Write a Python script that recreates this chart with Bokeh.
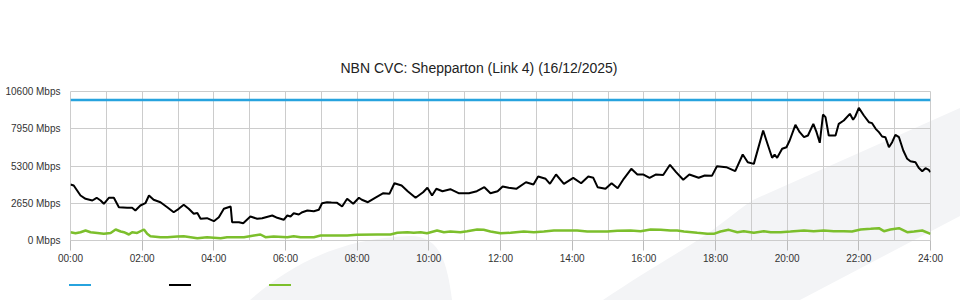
from bokeh.plotting import figure
from bokeh.layouts import column
from bokeh.models import Range1d, FixedTicker, Div
from bokeh.embed import file_html
from bokeh.resources import INLINE

title_text = "NBN CVC: Shepparton (Link 4) (16/12/2025)"

# capacity line
cap_hours = [0, 24]
cap_mbps = [10000, 10000]

# download (black)
dl_hours = [0.00, 0.09, 0.28, 0.42, 0.61, 0.73, 0.84, 0.93, 1.07, 1.21, 1.35, 1.58, 1.72, 1.81,
            1.95, 2.09, 2.19, 2.32, 2.51, 2.70, 2.88, 3.02, 3.16, 3.30, 3.44, 3.54, 3.63, 3.81,
            4.00, 4.14, 4.28, 4.47, 4.51, 4.70, 4.82, 5.02, 5.21, 5.35, 5.63, 5.77, 5.95, 6.05,
            6.14, 6.23, 6.37, 6.47, 6.61, 6.79, 6.93, 7.02, 7.16, 7.28, 7.44, 7.58, 7.72, 7.89,
            8.05, 8.13, 8.30, 8.50, 8.73, 8.90, 9.04, 9.24, 9.41, 9.63, 9.84, 9.96, 10.09, 10.21,
            10.38, 10.60, 10.83, 11.12, 11.34, 11.55, 11.72, 11.92, 12.06, 12.23, 12.44, 12.71,
            12.92, 13.05, 13.26, 13.38, 13.55, 13.77, 14.03, 14.25, 14.45, 14.59, 14.71, 14.93,
            15.10, 15.27, 15.44, 15.65, 15.82, 15.99, 16.16, 16.33, 16.54, 16.73, 16.90, 17.10,
            17.27, 17.53, 17.70, 17.90, 18.04, 18.30, 18.55, 18.76, 18.90, 19.07, 19.33, 19.45,
            19.58, 19.65, 19.72, 19.86, 19.98, 20.07, 20.23, 20.35, 20.47, 20.58, 20.73, 20.82,
            20.91, 21.00, 21.07, 21.16, 21.35, 21.44, 21.58, 21.75, 21.84, 21.90, 22.00, 22.14,
            22.28, 22.37, 22.47, 22.56, 22.65, 22.74, 22.84, 22.93, 23.02, 23.12, 23.24, 23.35,
            23.44, 23.58, 23.67, 23.77, 23.86, 23.95, 24.00]
dl_mbps = [3984, 3913, 3200, 2966, 2846, 3038, 2846, 2610, 3038, 3038, 2370, 2325, 2325, 2134,
           2490, 2653, 3201, 2896, 2725, 2370, 2013, 2255, 2540, 2255, 1900, 1950, 1544, 1586,
           1373, 1658, 2255, 2419, 1302, 1302, 1231, 1707, 1544, 1586, 1778, 1615, 1473, 1778,
           1707, 1942, 1850, 2013, 2134, 2080, 2184, 2653, 2725, 2700, 2680, 2419, 2966, 2610,
           3038, 2896, 2725, 3038, 3365, 3320, 4076, 3913, 3507, 3038, 3436, 3749, 3201, 3678,
           3507, 3650, 3365, 3365, 3507, 3792, 3365, 3507, 3842, 3749, 3678, 4147,
           3984, 4553, 4389, 4032, 4695, 4032, 4460, 4076, 4553, 4460, 3792, 3678,
           4076, 3720, 4389, 5100, 4695, 4695, 4460, 4695, 4660, 5385, 4860, 4318,
           4695, 4460, 4624, 4600, 5286, 5215, 4930, 6118, 5570, 5450, 7825, 6879,
           5883, 6118, 5883, 6523, 6638, 7114, 8230, 7706, 7350, 7470, 8300, 7706,
           6950, 8963, 8775, 7470, 7470, 8300, 8537, 9011, 8585, 8822, 9438, 8893,
           8418, 8347, 7944, 7706, 7400, 7350, 6638, 6994, 7517, 7350, 6400, 5811,
           5640, 5570, 5170, 4930, 5145, 5030, 4860]

# upload (green)
ul_hours = [0.00, 0.14, 0.28, 0.42, 0.56, 0.75, 0.93, 1.12, 1.26, 1.40, 1.49, 1.63, 1.72, 1.86,
            2.05, 2.14, 2.23, 2.51, 2.70, 2.98, 3.16, 3.35, 3.54, 3.81, 4.19, 4.37, 4.84, 5.12,
            5.30, 5.44, 5.67, 6.05, 6.23, 6.42, 6.79, 6.98, 7.35, 7.72, 8.00, 8.56, 8.93, 9.12,
            9.40, 9.58, 9.77, 9.95, 10.23, 10.42, 10.60, 10.88, 11.07, 11.35, 11.53, 11.72, 12.00,
            12.28, 12.65, 12.93, 13.21, 13.49, 13.86, 14.14, 14.42, 14.70, 14.98, 15.26, 15.63,
            15.91, 16.19, 16.47, 16.74, 16.93, 17.12, 17.49, 17.77, 17.95, 18.14, 18.37, 18.61,
            18.79, 19.07, 19.35, 19.54, 19.82, 20.09, 20.47, 20.74, 21.02, 21.30, 21.58, 21.81,
            22.05, 22.33, 22.56, 22.70, 22.88, 23.12, 23.35, 23.54, 23.77, 24.00]
ul_mbps = [590, 520, 590, 711, 590, 540, 476, 540, 783, 640, 590, 427, 590, 540,
           783, 476, 308, 237, 237, 285, 308, 237, 166, 237, 166, 237, 237, 356,
           427, 237, 285, 237, 308, 237, 237, 356, 356, 356, 403, 427, 427, 546,
           590, 546, 590, 520, 711, 590, 640, 590, 664, 783, 759, 640, 520,
           546, 640, 590, 640, 711, 711, 711, 640, 640, 640, 690, 711,
           664, 783, 759, 711, 711, 640, 546, 476, 476, 640, 759, 590,
           664, 546, 664, 590, 590, 640, 711, 664, 711, 664, 664, 640,
           783, 830, 877, 664, 783, 877, 590, 640, 711, 476]

y_ticks = [0, 2650, 5300, 7950, 10600]
y_tick_labels = {t: f"{t} Mbps" for t in y_ticks}
x_ticks = list(range(0, 25, 2))
x_tick_labels = {h: f"{h:02d}:00" for h in x_ticks}
x_grid_hours = list(range(0, 25))

BLUE = "#27a3de"
BLACK = "#000000"
GREEN = "#7cbf2c"
GRID = "#cccccc"
TEXT = "#333333"
FONT = "Liberation Sans"

watermark = (
    "url(\"data:image/svg+xml;utf8,<svg xmlns='http://www.w3.org/2000/svg' width='960' height='300'>"
    "<path d='M250 300 C290 265 340 238 410 236 C440 236 447 262 452 300 Z' fill='%23f3f4f6'/>"
    "<path d='M603 300 C640 275 670 258 698 240 C720 226 735 212 753 200 L960 108 L960 216 L800 300 Z' fill='%23f3f4f6'/>"
    "</svg>\")"
)

p = figure(width=960, height=270, output_backend="svg", toolbar_location=None,
           x_range=Range1d(0, 24), y_range=Range1d(0, 10600),
           min_border_left=70, min_border_right=30, min_border_top=91, min_border_bottom=30,
           title=title_text)
p.outline_line_color = GRID
p.border_fill_alpha = 0
p.background_fill_alpha = 0

p.title.text_font = FONT
p.title.text_font_size = "14px"
p.title.text_font_style = "normal"
p.title.text_color = "#222222"
p.title.align = "left"
p.title.offset = 270
p.title.standoff = 32

# axes
p.xaxis.ticker = FixedTicker(ticks=x_ticks)
p.xaxis.major_label_overrides = x_tick_labels
p.xaxis.minor_tick_line_color = None
p.xaxis.major_tick_in = 0
p.xaxis.major_tick_out = 10
p.xaxis.major_tick_line_color = "#bbbbbb"
p.xaxis.axis_line_color = GRID
p.xaxis.major_label_standoff = 2
p.xaxis.major_label_text_font = FONT
p.xaxis.major_label_text_font_size = "10px"
p.xaxis.major_label_text_color = TEXT

p.yaxis.ticker = FixedTicker(ticks=y_ticks)
p.yaxis.major_label_overrides = y_tick_labels
p.yaxis.minor_tick_line_color = None
p.yaxis.major_tick_line_color = None
p.yaxis.major_tick_in = 0
p.yaxis.major_tick_out = 0
p.yaxis.axis_line_color = None
p.yaxis.major_label_standoff = 10
p.yaxis.major_label_text_font = FONT
p.yaxis.major_label_text_font_size = "10px"
p.yaxis.major_label_text_color = TEXT

p.xgrid.ticker = FixedTicker(ticks=x_grid_hours)
p.xgrid.grid_line_color = GRID
p.ygrid.grid_line_color = GRID

p.line(cap_hours, cap_mbps, line_color=BLUE, line_width=2.5)
p.line(dl_hours, dl_mbps, line_color=BLACK, line_width=2)
p.line(ul_hours, ul_mbps, line_color=GREEN, line_width=2.5)

# legend strip: unlabeled colour swatches, as in the original
series_colors = [BLUE, BLACK, GREEN]
swatches = "".join(
    f"<span style='position:absolute;left:{69 + 100 * i}px;top:14px;width:22px;height:2px;"
    f"background:{c};display:block'></span>"
    for i, c in enumerate(series_colors)
)
legend_strip = Div(text=f"<div style='position:relative;width:960px;height:30px'>{swatches}</div>",
                   width=960, height=30, margin=0)

layout = column(p, legend_strip, spacing=0)
layout.styles = {"background-image": watermark, "background-repeat": "no-repeat"}

open("out.html", "w").write(file_html(layout, INLINE))
